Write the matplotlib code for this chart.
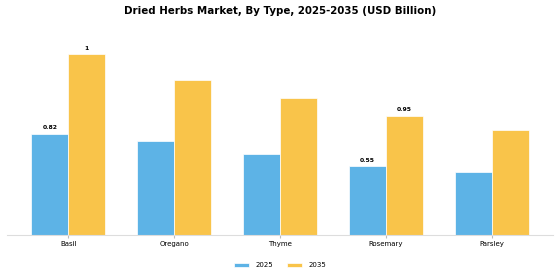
import matplotlib.pyplot as plt
import numpy as np

# data
herbs = ['Basil', 'Oregano', 'Thyme', 'Rosemary', 'Parsley']
values_2025 = [0.56, 0.52, 0.45, 0.38, 0.35]
values_2035 = [1.00, 0.86, 0.76, 0.66, 0.58]
# labels printed above some bars (as shown on the chart)
labels_2025 = ['0.82', '', '', '0.55', '']
labels_2035 = ['1', '', '', '0.95', '']

blue = '#5DB3E6'
yellow = '#F9C44A'

fig = plt.figure(figsize=(5.6, 2.8), dpi=100)
ax = fig.add_axes([0.0125, 0.1607, 0.975, 0.714])

x = np.arange(len(herbs))
w = 0.35
b1 = ax.bar(x - w / 2, values_2025, w, color=blue, label='2025', edgecolor='white', linewidth=0.5)
b2 = ax.bar(x + w / 2, values_2035, w, color=yellow, label='2035', edgecolor='white', linewidth=0.5)

for bars, labels in ((b1, labels_2025), (b2, labels_2035)):
    for bar, lab in zip(bars, labels):
        if lab:
            ax.text(bar.get_x() + bar.get_width() / 2, bar.get_height() + 0.02, lab,
                    ha='center', va='bottom', fontsize=4.4, fontweight='bold')

ax.set_xlim(-0.58, 4.58)
ax.set_ylim(0, 1.107)
ax.set_xticks(x)
ax.set_xticklabels(herbs, fontsize=5)
ax.set_yticks([])
for s in ('top', 'right', 'left'):
    ax.spines[s].set_visible(False)
ax.spines['bottom'].set_color('#dddddd')
ax.tick_params(axis='x', length=2.5, color='#bbbbbb', pad=2)

fig.suptitle('Dried Herbs Market, By Type, 2025-2035 (USD Billion)', fontsize=7.4,
             fontweight='bold', y=0.98)
fig.legend(loc='center', bbox_to_anchor=(0.5, 0.053), ncol=2, frameon=False,
           fontsize=5, handlelength=2.15, handleheight=0.6, handletextpad=0.85,
           columnspacing=2.1)

fig.savefig('out.png', dpi=100)
